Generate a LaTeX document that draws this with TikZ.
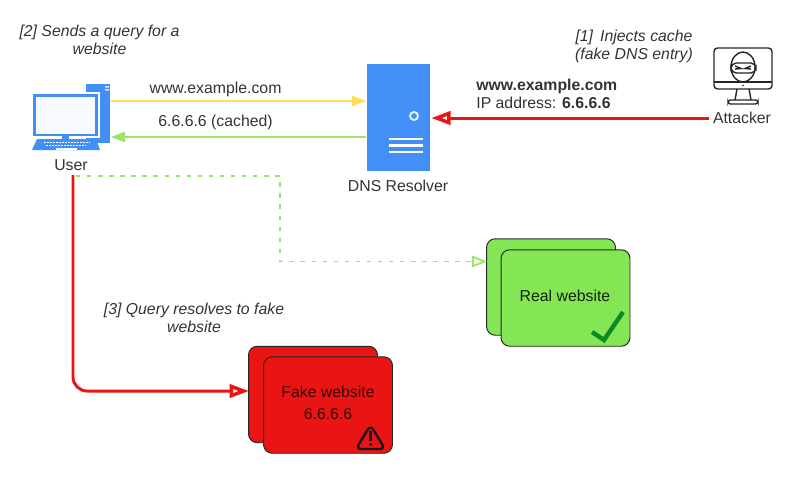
\documentclass[tikz,border=0pt]{standalone}
\usepackage{fontspec}
\setmainfont{Liberation Sans}
\usetikzlibrary{arrows.meta,calc,positioning}
\definecolor{iconblue}{HTML}{4290F7}
\definecolor{queryyellow}{HTML}{FFE05A}
\definecolor{replygreen}{HTML}{96E66A}
\definecolor{cardgreen}{HTML}{85E655}
\definecolor{cardred}{HTML}{EA1414}
\definecolor{checkgreen}{HTML}{0A8A22}
\tikzset{
  label/.style={font=\fontsize{9}{10.4}\selectfont, text=black!80, align=center, inner sep=0pt},
  note/.style={font=\fontsize{9}{10.4}\selectfont\itshape, text=black!80, align=center, inner sep=0pt},
  query/.style={-{Triangle[length=8pt,width=6pt]}, queryyellow, line width=1.1pt},
  reply/.style={-{Triangle[length=8pt,width=6pt]}, replygreen, line width=0.8pt},
  inject/.style={-{Triangle[open,length=11pt,width=7.5pt,line width=2pt]}, cardred, line width=1.7pt},
  realpath/.style={-{Triangle[open,length=8.5pt,width=6.5pt,line width=1pt]}, replygreen, line width=1.1pt, dash pattern=on 2.5pt off 3.8pt},
  card/.style={draw=black!85, line width=0.55pt, rounded corners=5pt, minimum width=2.58cm, minimum height=1.93cm, inner sep=0pt},
  realcard/.style={card, fill=cardgreen},
  fakecard/.style={card, fill=cardred},
  icon/.style={minimum width=#1, inner sep=0pt, outer sep=0pt}
}

\begin{document}
\begin{tikzpicture}[x=0.02cm, y=-0.02cm, >=stealth]
\useasboundingbox (0,0) rectangle (800,478);

% user computer
\fill[iconblue] (86,84) -- (110,84) -- (110,143) -- (86,143) -- cycle;
\fill[white!80!iconblue] (105,86) rectangle (109,87.5) (105,89) rectangle (109,90.5);
\fill[white] (31,92) rectangle (100,138);
\fill[iconblue] (33,94) rectangle (98,136);
\fill[white!96!iconblue] (36,97) rectangle (95,134);
\fill[iconblue] (62,136) rectangle (69,140);
\fill[iconblue] (37,139) -- (96,139) -- (100,150) -- (32,150) -- cycle;
\draw[white, line width=0.5pt, dash pattern=on 1pt off 0.7pt] (44,142) -- (90,142) (46,145) -- (85,145);
\fill[white] (56,148) rectangle (77,150);
\node[icon=2.2cm, minimum height=1.32cm] (user) at (71,117) {};
\node[label] (userlabel) at (71,165) {User};

% dns resolver
\node[fill=iconblue, minimum width=1.26cm, minimum height=2.14cm, inner sep=0pt, outer sep=0pt] (resolver) at (398,117.5) {};
\draw[white!85!iconblue, line width=1.1pt] (414,116) circle (4);
\draw[white, line width=1.2pt] (389,139) -- (423,139) (389,145.5) -- (423,145.5) (389,152) -- (423,152);
\node[label] (resolverlabel) at (398,186) {DNS Resolver};

% attacker
\draw[black!85, line width=0.8pt, rounded corners=2pt] (714,48) rectangle (772,89);
\draw[black!85, line width=0.8pt] (714,82) -- (772,82);
\fill[black!85] (743,85.5) circle (0.8);
\draw[black!85, line width=0.8pt] (737,89) -- (735,100) (749,89) -- (751,100);
\draw[black!85, line width=0.8pt, rounded corners=1.5pt] (728,100) rectangle (758,104);
\draw[black!85, line width=0.8pt] (743,67) ellipse (12 and 15);
\draw[black!85, line width=0.8pt, rounded corners=3pt] (731,63) rectangle (756,73);
\draw[black!85, line width=0.8pt] (735,66) -- (741,68.5) -- (735,69) (751,66) -- (745,68.5) -- (751,69);
\node[label, outer sep=2.5pt] (attacker) at (742,118) {Attacker};

% connector ends
\coordinate (userout) at (111,101);
\coordinate (userin) at (111,137);
\coordinate (resolverin) at (366,101);
\coordinate (resolverout) at (366,137);
\coordinate (userdash) at (76,176);
\coordinate (usertail) at (73,175);

% websites
\node[realcard] (realback) at (551,287) {};
\node[realcard] (realfront) at (565.5,298) {};
\node[label, text=black!85!cardgreen] (realtext) at (565,296) {Real website};
\draw[checkgreen, line width=2.5pt] (592,332) -- (604,340) -- (623,312);
\coordinate (realin) at (487,261.5);

\node[fakecard] (fakeback) at (313,394.5) {};
\node[fakecard] (fakefront) at (328,405) {};
\node[label, text=black!75!cardred] (faketext) at (328,403) {Fake website\\[2pt]6.6.6.6};
\coordinate (fakein) at (249,391);
\draw[black!90, line width=1.4pt, rounded corners=3pt] (370.5,425) -- (385,449) -- (356,449) -- cycle;
\fill[black!90] (369,431) rectangle (372,441);
\fill[black!90] (370.5,444.5) circle (1.6);

% connectors
\draw[query] (userout) -- node[label, above=1.6pt, pos=0.41] (querytext) {www.example.com} (resolverin);
\draw[reply] (resolverout) -- node[label, above=3.5pt, pos=0.59] (replytext) {6.6.6.6 (cached)} (userin);
\draw[inject, shorten >=1pt] (attacker.west) -- (attacker.west -| resolver.east);
\draw[realpath] (userdash) -- (280,176) |- (realin);
\draw[inject, rounded corners=8pt] (usertail) |- (fakein);

% labels
\node[note] (notetwo) at (99.5,40) {[2] Sends a query for a\\website};
\node[note] (noteone) at (634,46.5) {[1]\, Injects cache\\(fake DNS entry)};
\node[note] (notethree) at (194,318) {[3] Query resolves to fake\\website};
\node[label, align=left, anchor=west] (entry) at (476,94) {\textbf{www.example.com}\\IP address: \textbf{6.6.6.6}};

\end{tikzpicture}
\end{document}
